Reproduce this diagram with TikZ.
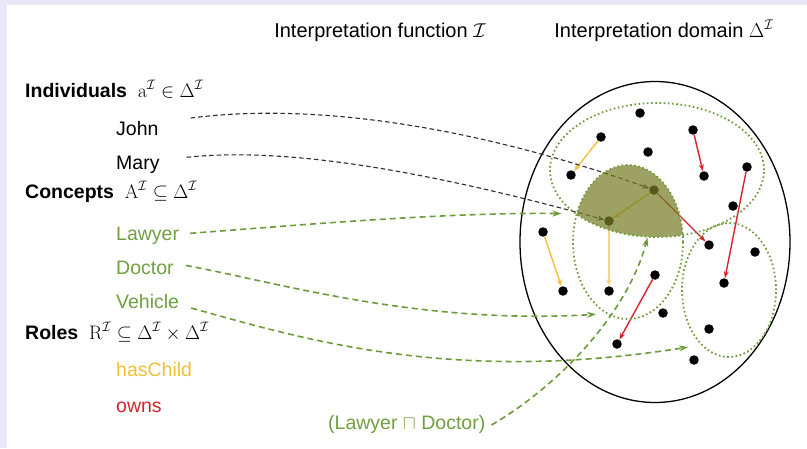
\documentclass[tikz,border=0pt]{standalone}
\usepackage{fix-cm}
\usepackage{amsmath,amssymb}
\usepackage[no-math]{fontspec}
\setmainfont{Liberation Sans}
\usetikzlibrary{shapes.geometric, arrows.meta}
\definecolor{FrameLavender}{RGB}{232, 232, 246}
\definecolor{ConceptGreen}{RGB}{112, 160, 64}
\definecolor{SetGreen}{RGB}{108, 156, 58}
\definecolor{RoleYellow}{RGB}{242, 192, 56}
\definecolor{RoleRed}{RGB}{212, 36, 44}
\definecolor{LensOlive}{RGB}{120, 125, 40}
\definecolor{LinkGray}{RGB}{45, 45, 45}
\pgfdeclarelayer{front}
\pgfsetlayers{main,front}

\begin{document}
\begin{tikzpicture}[x=1pt, y=-1pt,
        term/.style={anchor=base west, inner sep=0pt, font=\fontsize{19.5}{22}\selectfont},
        heading/.style={anchor=base, inner sep=0pt, font=\fontsize{20}{24}\selectfont},
        elem/.style={circle, fill=black, inner sep=0pt, minimum size=9.5pt},
        extent/.style={draw=SetGreen, ellipse, inner sep=0pt, line width=1.8pt,
                       dash pattern=on 1.6pt off 2.6pt},
        indlink/.style={-{Stealth[length=7pt, width=5pt]}, LinkGray, line width=1.1pt,
                        dash pattern=on 4.5pt off 3pt},
        conlink/.style={-{Stealth[length=9pt, width=6pt]}, SetGreen, line width=1.6pt,
                        dash pattern=on 6pt off 4pt},
        haschild/.style={-{Stealth[length=7pt, width=5pt]}, RoleYellow, line width=1.4pt},
        owns/.style={-{Stealth[length=7pt, width=5pt]}, RoleRed, line width=1.4pt}]

    \useasboundingbox (0,0) rectangle (807,448);
    \fill[FrameLavender] (0,0) rectangle (807,448);
    \fill[white] (7,5) rectangle (807,448);

    % Headings
    \node[heading] (fhead) at (380,37) {Interpretation function $\mathcal{I}$};
    \node[heading] (dhead) at (664,37) {Interpretation domain $\Delta^{\mathcal{I}}$};

    % Left column: syntax
    \node[term] (individuals) at (25,97) {\textbf{Individuals}\ \ $\mathrm{a}^{\mathcal{I}}\in\Delta^{\mathcal{I}}$};
    \node[term] (john) at (116,135) {John};
    \node[term] (mary) at (116,169) {Mary};
    \node[term] (concepts) at (25,198) {\textbf{Concepts}\ \ $\mathrm{A}^{\mathcal{I}}\subseteq\Delta^{\mathcal{I}}$};
    \node[term, ConceptGreen] (lawyer) at (116,240) {Lawyer};
    \node[term, ConceptGreen] (doctor) at (116,274) {Doctor};
    \node[term, ConceptGreen] (vehicle) at (116,308) {Vehicle};
    \node[term] (roles) at (25,339) {\textbf{Roles}\ \ $\mathrm{R}^{\mathcal{I}}\subseteq\Delta^{\mathcal{I}}\times\Delta^{\mathcal{I}}$};
    \node[term, RoleYellow] (haschildlbl) at (116,376) {hasChild};
    \node[term, RoleRed] (ownslbl) at (116,412) {owns};
    \node[term, ConceptGreen] (meet) at (328,429) {(Lawyer $\sqcap$ Doctor)};

    % Domain and concept extents
    \node[draw, ellipse, line width=1.3pt, minimum width=270pt, minimum height=321pt] (domain) at (655,242) {};
    \begin{pgfonlayer}{front}
        \node[extent, minimum width=214pt, minimum height=134pt] (lawyerset) at (657,170) {};
        \node[extent, minimum width=110pt, minimum height=154pt] (doctorset) at (628,242) {};
        \node[extent, minimum width=94pt, minimum height=134pt] (vehicleset) at (729,290) {};
    \end{pgfonlayer}

    % Elements of the domain
    \node[elem] (d1) at (640,113) {};  \node[elem] (d2) at (601,137) {};
    \node[elem] (d3) at (648,152) {};  \node[elem] (d4) at (693,130) {};
    \node[elem] (d5) at (571,175) {};  \node[elem] (d6) at (704,176) {};
    \node[elem] (d7) at (747,167) {};  \node[elem] (johnpt) at (654,190) {};
    \node[elem] (marypt) at (609,221) {}; \node[elem] (d10) at (733,206) {};
    \node[elem] (d11) at (709,245) {}; \node[elem] (d12) at (755,252) {};
    \node[elem] (d13) at (543,232) {}; \node[elem] (d14) at (655,275) {};
    \node[elem] (d15) at (563,291) {}; \node[elem] (d16) at (609,291) {};
    \node[elem] (d17) at (724,283) {}; \node[elem] (d18) at (663,313) {};
    \node[elem] (d19) at (709,329) {}; \node[elem] (d20) at (617,344) {};
    \node[elem] (d21) at (694,360) {};

    % Role pairs
    \draw[haschild] (d2) -- (d5);
    \draw[haschild] (johnpt) -- (marypt);
    \draw[haschild, RoleYellow!65] (marypt) -- (d16);
    \draw[haschild] (d13) -- (d15);
    \draw[owns] (d4) -- (d6);
    \draw[owns] (johnpt) -- (d11);
    \draw[owns] (d7) -- (d17);
    \draw[owns] (d14) -- (d20);

    % Mapping of individuals and concepts
    \draw[indlink] ([shift={(32,-10)}]john.east) .. controls (330,100) and (500,135) .. (johnpt);
    \draw[indlink] ([shift={(27,-7)}]mary.east) .. controls (300,145) and (460,180) .. (marypt);
    \draw[conlink, shorten >=13pt] ([shift={(11,-2)}]lawyer.east) .. controls (300,225) and (450,212) .. (lawyerset.208);
    \draw[conlink, shorten >=10pt] ([shift={(12,-2)}]doctor.east) .. controls (280,283) and (420,325) .. (doctorset.253);
    \draw[conlink, shorten >=13pt] ([shift={(12,7)}]vehicle.east) .. controls (300,338) and (450,385) .. (vehicleset.243);
    \draw[conlink] ([shift={(6,1)}]meet.east) .. controls (560,385) and (628,312) .. (lawyerset.262);

    % Lawyer and Doctor overlap
    \begin{scope}
        \clip (657,170) ellipse [x radius=107pt, y radius=67pt];
        \fill[LensOlive, fill opacity=0.72] (628,242) ellipse [x radius=55pt, y radius=77pt];
    \end{scope}
\end{tikzpicture}
\end{document}
